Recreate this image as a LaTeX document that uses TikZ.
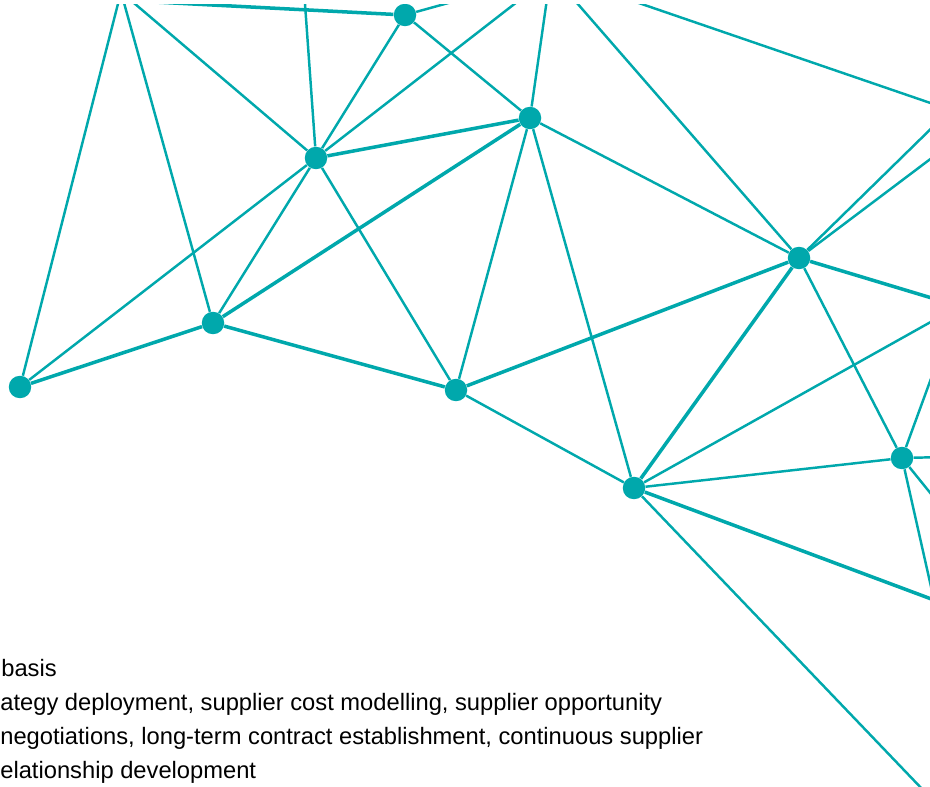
\documentclass[tikz,border=0pt]{standalone}
\usepackage{fontspec}
\setmainfont{Liberation Sans}
\definecolor{netteal}{RGB}{0,168,172}

\begin{document}
\begin{tikzpicture}[x=0.02cm, y=-0.02cm,
	dot/.style={circle, fill=netteal, inner sep=0pt, minimum size=0.45cm},
	link/.style={draw=netteal, line width=1.4pt},
	heavy/.style={draw=netteal, line width=2pt},
	txt/.style={anchor=base west, inner sep=0pt, font=\fontsize{13.5}{16}\selectfont}]
	\useasboundingbox (0,0) rectangle (930,787);
	\begin{scope}
		\clip (0,5) rectangle (930,787);
		% dots
		\draw (121,-8) node [dot] (a) {};
		\draw (405,15) node [dot] (b) {};
		\draw (530,118) node [dot] (c) {};
		\draw (316,158) node [dot] (d) {};
		\draw (213,323) node [dot] (e) {};
		\draw (20,387) node [dot] (f) {};
		\draw (456,390) node [dot] (g) {};
		\draw (799,258) node [dot] (h) {};
		\draw (634,488) node [dot] (i) {};
		\draw (902,458) node [dot] (j) {};
		% ends outside the frame
		\coordinate (p1) at (0,-6);
		\coordinate (p2) at (470,-3);
		\coordinate (p3) at (304,-10);
		\coordinate (p4) at (526,-5);
		\coordinate (p5) at (548,-8);
		\coordinate (p6) at (570,-5);
		\coordinate (p7) at (945,115);
		\coordinate (p8) at (945,148);
		\coordinate (p9) at (945,302);
		\coordinate (p10) at (945,314);
		\coordinate (p11) at (925,792);
		\coordinate (p12) at (945,457);
		\coordinate (p13) at (936,365);
		\coordinate (p14) at (940,505);
		\coordinate (p15) at (630,0);
		\coordinate (p16) at (945,108);
		\coordinate (r) at (934,600);
		% links
		\path (a) edge[link] (f)
		(a) edge[link] (e)
		(a) edge[link] (d)
		(b) edge[heavy] (p1)
		(b) edge[link] (p2)
		(b) edge[link] (d)
		(b) edge[link] (c)
		(d) edge[link] (p3)
		(d) edge[link] (p4)
		(d) edge[heavy] (c)
		(d) edge[link] (e)
		(d) edge[link] (f)
		(d) edge[link] (g)
		(c) edge[link] (p5)
		(c) edge[heavy] (e)
		(c) edge[link] (g)
		(c) edge[link] (i)
		(c) edge[link] (h)
		(e) edge[heavy] (f)
		(e) edge[heavy] (g)
		(g) edge[heavy] (h)
		(g) edge[link] (i)
		(h) edge[link] (p6)
		(h) edge[link] (p7)
		(h) edge[link] (p8)
		(h) edge[heavy] (p9)
		(h) edge[heavy] (i)
		(h) edge[link] (j)
		(i) edge[link] (p10)
		(i) edge[link] (j)
		(i) edge[heavy] (r)
		(i) edge[link] (p11)
		(j) edge[link] (p12)
		(j) edge[link] (p13)
		(j) edge[link] (p14)
		(j) edge[link] (r)
		(p15) edge[link] (p16);
	\end{scope}
	% text
	\node [txt] (t1) at (1,676) {basis};
	\node [txt] (t2) at (0,710) {ategy deployment, supplier cost modelling, supplier opportunity};
	\node [txt] (t3) at (0,744) {negotiations, long-term contract establishment, continuous supplier};
	\node [txt] (t4) at (0,778) {elationship development};
\end{tikzpicture}
\end{document}
